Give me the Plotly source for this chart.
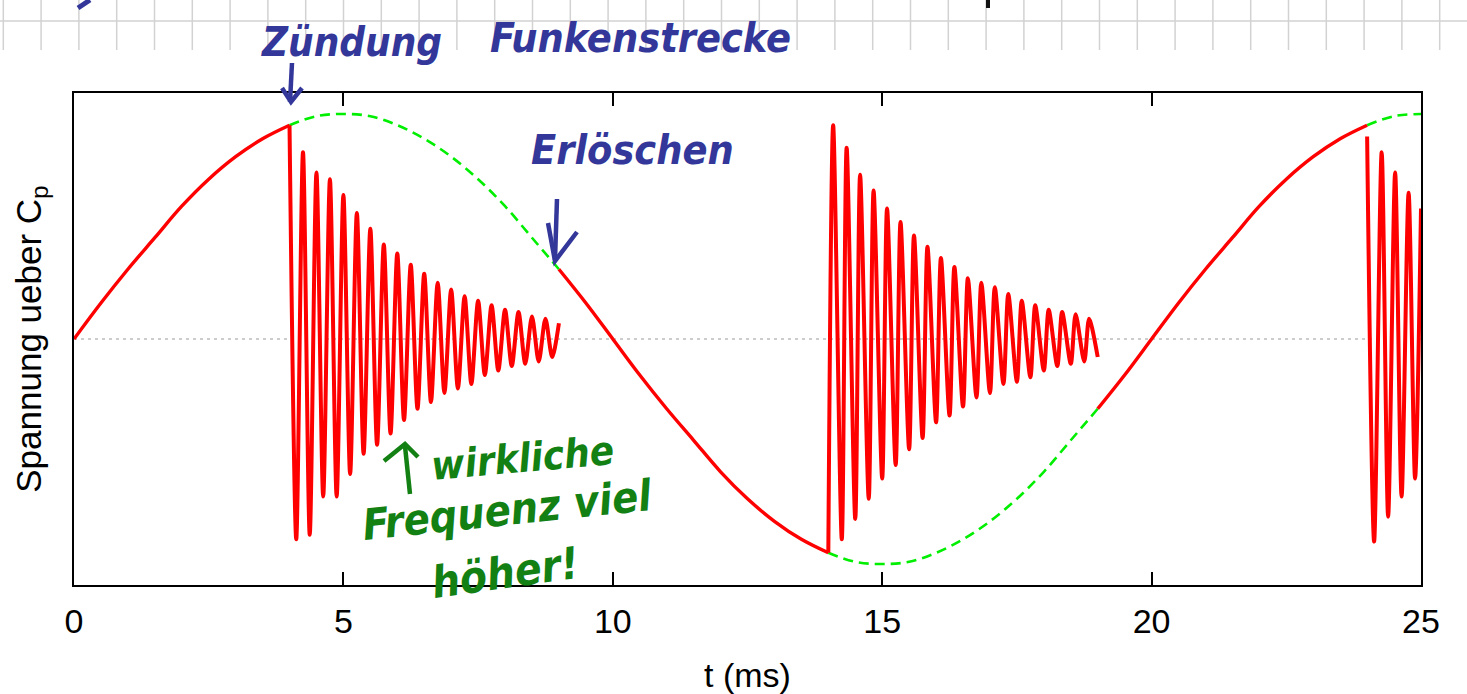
import plotly.graph_objects as go

# ---------------- data ----------------
# undisturbed sine (voltage over C_p), sampled every 0.5 ms from 0 to 25 ms
sine_t_step = 0.5
sine_v = [0.00, 0.16, 0.31, 0.45, 0.59, 0.71, 0.81, 0.89, 0.95, 0.99, 1.00,
          0.99, 0.95, 0.89, 0.81, 0.71, 0.59, 0.45, 0.31, 0.16, 0.00,
          -0.16, -0.31, -0.45, -0.59, -0.71, -0.81, -0.89, -0.95, -0.99, -1.00,
          -0.99, -0.95, -0.89, -0.81, -0.71, -0.59, -0.45, -0.31, -0.16, 0.00,
          0.16, 0.31, 0.45, 0.59, 0.71, 0.81, 0.89, 0.95, 0.99, 1.00]

# spark gap conducting intervals (ms): oscillation drawn, sine shown dashed
spark_on = [4.0, 14.0, 24.0]
spark_off = [9.0, 19.0, 25.0]

# burst 1 (4..9 ms): start value, then alternating trough / peak values
b1_start = 4.0
b1_period = 0.25
b1_first_trough = 0.125
b1_first_peak = 0.25
b1_start_v = 0.95
b1_troughs = [-0.89, -0.87, -0.70, -0.70, -0.60, -0.51, -0.47, -0.42, -0.36, -0.31,
              -0.28, -0.24, -0.22, -0.20, -0.16, -0.14, -0.12, -0.11, -0.10, -0.08]
b1_peaks = [0.83, 0.74, 0.71, 0.64, 0.56, 0.49, 0.42, 0.38, 0.33, 0.29,
            0.25, 0.22, 0.19, 0.17, 0.15, 0.13, 0.12, 0.10, 0.09, 0.07]

# burst 2 (14..19 ms): inverted start
b2_start = 14.0
b2_period = 0.25
b2_first_peak = 0.09
b2_first_trough = 0.25
b2_start_v = -0.95
b2_peaks = [0.95, 0.85, 0.73, 0.66, 0.58, 0.52, 0.46, 0.41, 0.36, 0.32,
            0.27, 0.25, 0.23, 0.20, 0.17, 0.15, 0.13, 0.12, 0.11, 0.09]
b2_troughs = [-0.89, -0.80, -0.71, -0.62, -0.56, -0.49, -0.44, -0.37, -0.34, -0.30,
              -0.26, -0.24, -0.20, -0.19, -0.17, -0.14, -0.12, -0.11, -0.10]
b2_end_v = -0.08

# burst 3 (24..25 ms, cut by the axis end)
b3_t = [24.0, 24.13, 24.27, 24.39, 24.52, 24.64, 24.77, 24.89, 25.0]
b3_v = [0.90, -0.90, 0.83, -0.79, 0.74, -0.70, 0.65, -0.62, 0.58]

x_ticks = [0, 5, 10, 15, 20, 25]
x_title = "t (ms)"
y_title = "Spannung ueber C<sub>p</sub>"

RED = "#ff0000"
GREEN = "#00ee00"
BLUE = "#33379a"
HGREEN = "#138013"

# ---------------- figure ----------------
W, H = 1467, 694
ML, MR, MT, MB = 74, 46, 93, 109
PW, PH = W - ML - MR, H - MT - MB


def pp(x, y):
    """pixel -> paper coordinates (for decorations only)"""
    return (x - ML) / PW, (H - MB - y) / PH


fig = go.Figure()

sine_t = [i * sine_t_step for i in range(len(sine_v))]


def seg(t0, t1):
    ts, vs = [], []
    for t, v in zip(sine_t, sine_v):
        if t0 - 1e-9 <= t <= t1 + 1e-9:
            ts.append(t)
            vs.append(v)
    return ts, vs


# dashed green: undisturbed sine during the spark
for a, b in zip(spark_on, spark_off):
    ts, vs = seg(a, b)
    fig.add_trace(go.Scatter(x=ts, y=vs, mode="lines",
                             line=dict(color=GREEN, width=2.6, dash="10px,6px", shape="spline"),
                             hoverinfo="skip", showlegend=False))

# red solid: charging phases
red_start = [0.0] + spark_off[:-1]
red_end = spark_on
for a, b in zip(red_start, red_end):
    ts, vs = seg(a, b)
    fig.add_trace(go.Scatter(x=ts, y=vs, mode="lines",
                             line=dict(color=RED, width=3.4, shape="spline"),
                             hoverinfo="skip", showlegend=False))

# burst 1
t1 = [b1_start]
v1 = [b1_start_v]
for k in range(len(b1_troughs)):
    t1.append(b1_start + b1_first_trough + k * b1_period)
    v1.append(b1_troughs[k])
    t1.append(b1_start + b1_first_peak + k * b1_period)
    v1.append(b1_peaks[k])

# burst 2
t2 = [b2_start]
v2 = [b2_start_v]
for k in range(len(b2_peaks)):
    t2.append(b2_start + b2_first_peak + k * b2_period)
    v2.append(b2_peaks[k])
    if k < len(b2_troughs):
        t2.append(b2_start + b2_first_trough + k * b2_period)
        v2.append(b2_troughs[k])
t2.append(spark_off[1])
v2.append(b2_end_v)

for ts, vs in [(t1, v1), (t2, v2), (b3_t, b3_v)]:
    fig.add_trace(go.Scatter(x=ts, y=vs, mode="lines",
                             line=dict(color=RED, width=4, shape="spline", smoothing=0.8),
                             hoverinfo="skip", showlegend=False))

shapes = []
# zero line (dotted gray)
shapes.append(dict(type="line", xref="x", yref="y", x0=0, x1=25, y0=0, y1=0,
                   line=dict(color="#9a9a9a", width=1, dash="3px,4px"), layer="below"))

# notebook grid at the top of the page
for k in range(39):
    gx = 3.3 + 37.8 * k
    x0, y0 = pp(gx, 0)
    _, y1 = pp(gx, 50)
    shapes.append(dict(type="line", xref="paper", yref="paper", x0=x0, x1=x0, y0=y0, y1=y1,
                       line=dict(color="#d2d2d2", width=1.5), layer="below"))
hx0, hy = pp(0, 21)
hx1, _ = pp(W, 21)
shapes.append(dict(type="line", xref="paper", yref="paper", x0=hx0, x1=hx1, y0=hy, y1=hy,
                   line=dict(color="#d2d2d2", width=1.5), layer="below"))


def stroke(points, color, width=4.5):
    d = ""
    for i, (px, py) in enumerate(points):
        x, y = pp(px, py)
        d += ("M" if i == 0 else "L") + f"{x:.5f},{y:.5f} "
    shapes.append(dict(type="path", xref="paper", yref="paper", path=d.strip(),
                       line=dict(color=color, width=width), layer="above"))


# handwritten arrows
stroke([(292, 63), (290, 102)], BLUE)
stroke([(282, 88), (291, 102), (302, 88)], BLUE)
stroke([(557, 199), (555, 260)], BLUE)
stroke([(548, 223), (555, 261), (577, 232)], BLUE)
stroke([(410, 494), (405, 446)], HGREEN)
stroke([(384, 461), (405, 444), (418, 457)], HGREEN)
# cut-off pen strokes at the top edge
stroke([(78, 8), (90, 0)], BLUE, 5)
stroke([(988, 0), (988, 8)], "#111111", 4)

fig.update_layout(shapes=shapes)

HAND = "Liberation Sans Narrow, DejaVu Sans Condensed, Liberation Sans"


def note(text, px, py, size, color, angle=0):
    x, y = pp(px, py)
    fig.add_annotation(text=text, x=x, y=y, xref="paper", yref="paper", showarrow=False,
                       xanchor="center", yanchor="middle", textangle=angle,
                       font=dict(family=HAND, size=size, color=color, weight="bold", style="italic"))


note("Zündung", 351, 42, 40, BLUE)
note("Funkenstrecke", 640, 38, 41, BLUE)
note("Erlöschen", 632, 150, 41, BLUE)
note("wirkliche", 522, 458, 40, HGREEN, -5)
note("Frequenz viel", 507, 510, 43, HGREEN, -6)
note("höher!", 505, 572, 44, HGREEN, -8)

fig.update_layout(
    width=W, height=H, autosize=False,
    margin=dict(l=ML, r=MR, t=MT, b=MB, pad=0, autoexpand=False),
    paper_bgcolor="white", plot_bgcolor="white",
    font=dict(family="Liberation Sans, Arial, sans-serif", color="black"),
    xaxis=dict(range=[0, 25], tickvals=x_ticks, ticktext=[str(v) for v in x_ticks],
               ticks="inside", ticklen=13, tickwidth=2, tickcolor="black",
               showline=True, linecolor="black", linewidth=2, mirror="ticks",
               showgrid=False, zeroline=False, ticklabelstandoff=5, automargin=False,
               tickfont=dict(size=34, color="black"),
               title=dict(text=x_title, font=dict(size=34, color="black"), standoff=24)),
    yaxis=dict(range=[-1.093, 1.093], showticklabels=False, ticks="",
               showline=True, linecolor="black", linewidth=2, mirror=True,
               showgrid=False, zeroline=False, automargin=False,
               title=dict(text=y_title, font=dict(size=35, color="black"), standoff=20)),
    showlegend=False,
)

fig.write_html("out.html")
